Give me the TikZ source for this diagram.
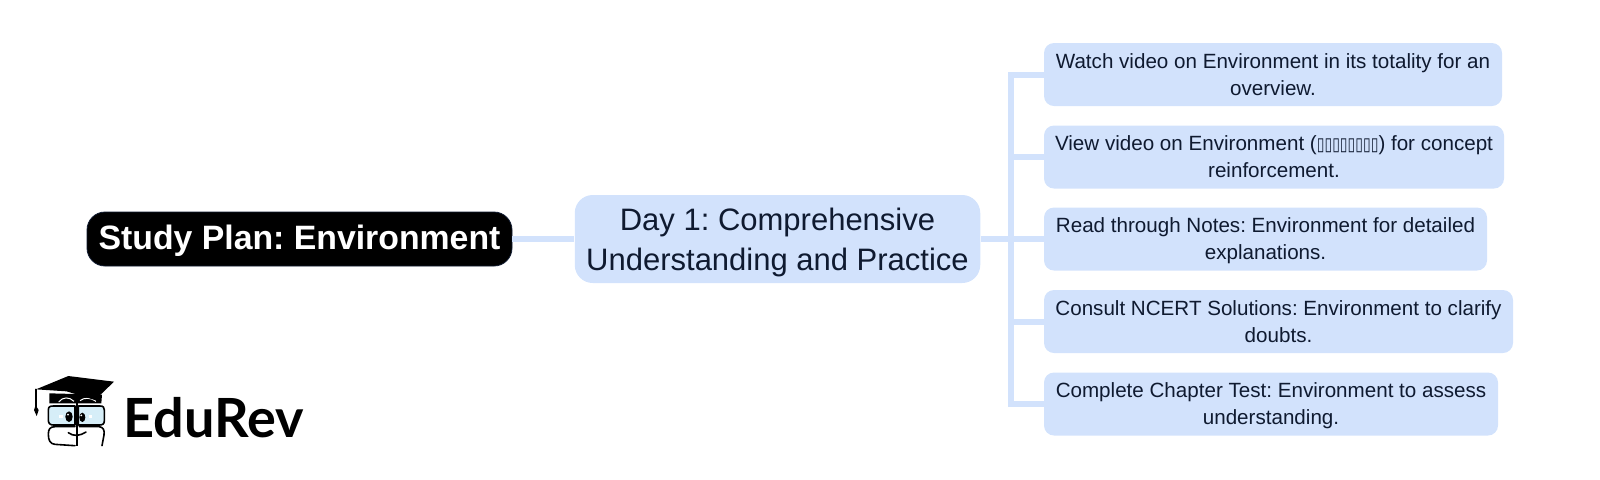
\documentclass[tikz,border=0pt]{standalone}
\usepackage{fontspec}
\setmainfont{Liberation Sans}
\newfontfamily\tofufont{DejaVu Sans}
\newfontfamily\logofont{Lato}
\definecolor{boxblue}{HTML}{D2E2FC}
\definecolor{inkblue}{HTML}{0F1A30}
\definecolor{lensblue}{HTML}{D6EEF8}
\newcommand{\topstrut}[1]{\rule{0pt}{#1}}
\newcommand{\twolines}[3][11.4pt]{\topstrut{#1}#2\\\strut #3}
\frenchspacing
\tikzset{
	tasknode/.style={rectangle,rounded corners=5pt,fill=boxblue,text=inkblue,align=center,inner sep=0pt,minimum height=31.5pt,font=\fontsize{10.3pt}{13.4pt}\selectfont},
	daynode/.style={rectangle,rounded corners=9pt,fill=boxblue,text=inkblue,align=center,inner sep=0pt,font=\fontsize{15.5pt}{20pt}\selectfont},
	rootnode/.style={rectangle,rounded corners=9pt,fill=black,draw=inkblue,line width=.4pt,text=white,inner sep=0pt,font=\fontsize{16.9pt}{20pt}\selectfont\bfseries},
	link/.style={draw=boxblue,line width=3pt},
	logoline/.style={line width=.8pt,black,line cap=round,line join=round}
}
\begin{document}
\begin{tikzpicture}
		[x=.5pt,y=-.5pt]
		\useasboundingbox (0,0) rectangle (1600,479);

		\node[rootnode,minimum width=212.5pt,minimum height=27pt] (n1) at (299.5,239) {\topstrut{14pt}\rule[-4pt]{0pt}{4pt}Study Plan: Environment};
		\node[daynode,minimum width=202.75pt,minimum height=44pt] (n2) at (777.5,239) {\twolines[17pt]{Day 1: Comprehensive}{Understanding and Practice}};

		\node[tasknode,minimum width=229pt] (n3) at (1273,74.5) {\twolines{Watch video on Environment in its totality for an}{overview.}};
		\node[tasknode,minimum width=230pt] (n4) at (1274,157) {\twolines{View video on Environment ({\tofufont\fontsize{7pt}{8pt}\selectfont\scalebox{1}[1.3]{▯▯▯▯▯▯▯▯}}) for concept}{reinforcement.}};
		\node[tasknode,minimum width=221.5pt] (n5) at (1265.5,239) {\twolines{Read through Notes: Environment for detailed}{explanations.}};
		\node[tasknode,minimum width=234.5pt] (n6) at (1278.5,321.5) {\twolines{Consult NCERT Solutions: Environment to clarify}{doubts.}};
		\node[tasknode,minimum width=227pt] (n7) at (1271,404) {\twolines{Complete Chapter Test: Environment to assess}{understanding.}};

		\coordinate (j1) at (1011,239);

		\draw[link] (n1) -- (n2);
		\draw[link] (n2) -- (n5);
		\draw[link] (n3.west) -| (j1);
		\draw[link] (n4.west) -| (j1);
		\draw[link] (n6.west) -| (j1);
		\draw[link] (n7.west) -| (j1);

		% logo
		\begin{scope}[shift={(0,360)},x=.16667pt,y=-.16667pt]
			\draw[logoline,fill=lensblue] (145,150) .. controls (145,140) and (150,138) .. (160,138) -- (225,138) -- (225,195) -- (160,195) .. controls (150,195) and (145,190) .. (145,180) -- cycle;
			\draw[logoline,fill=lensblue] (235,138) -- (300,138) .. controls (310,138) and (313,142) .. (313,150) -- (313,182) .. controls (313,192) and (308,195) .. (298,195) -- (235,195) -- cycle;
			\draw[logoline] (225,200) -- (165,200) .. controls (150,200) and (145,208) .. (145,222) .. controls (145,240) and (150,252) .. (165,253) -- (225,257);
			\draw[logoline] (238,200) -- (298,200) .. controls (310,202) and (314,210) .. (312,225) -- (306,257);
			\draw[black,line width=1.3pt] (231,128) -- (231,258);
			\fill[black] (148,100) -- (148,130) -- (304,130) -- (306,104) -- cycle;
			\draw[white,line width=.5pt] (176,126) .. controls (188,110) and (208,110) .. (222,124);
			\draw[white,line width=.5pt] (240,122) .. controls (252,112) and (272,112) .. (288,124);
			\fill[black] (108,88) -- (205,48) -- (342,65) -- (285,120) -- (200,94) -- cycle;
			\draw[logoline] (108,88) -- (108,142);
			\fill[black] (107,136) -- (116,150) -- (110,168) -- (102,150) -- cycle;
			\fill[white] (178,164) rectangle (188,174);
			\fill[white] (266,164) rectangle (276,174);
			\fill[black] (207,170) ellipse [x radius=11,y radius=16];
			\fill[black] (247,172) ellipse [x radius=9,y radius=14];
			\fill[white] (204,164) circle (3);
			\fill[white] (244,166) circle (3);
			\draw[logoline] (205,218) .. controls (220,230) and (240,228) .. (258,216);
			\node[inner sep=0pt,anchor=west,font=\logofont\bfseries\fontsize{27pt}{30pt}\selectfont] (n8) at (369,172) {EduRev};
		\end{scope}
	\end{tikzpicture}
\end{document}
